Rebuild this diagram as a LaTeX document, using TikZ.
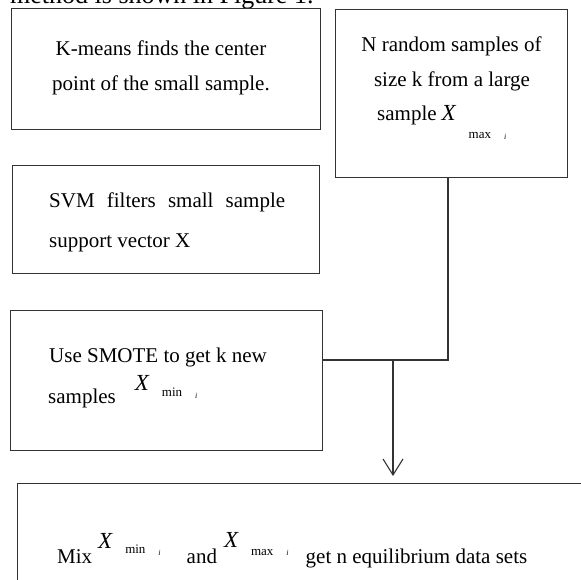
\documentclass[tikz,border=0pt]{standalone}
\usepackage{fontspec}
\setmainfont{Liberation Serif}
\usetikzlibrary{arrows.meta,positioning,calc}

\tikzset{
  box/.style={draw=black!80, line width=1.1pt, inner sep=0pt, anchor=north west},
  conn/.style={draw=black!80, line width=1.1pt},
  txt/.style={inner sep=0pt, anchor=base west, font=\fontsize{21}{35}\selectfont},
}
% X with index: #1 index text, #2 raise of X, #3 raise of index, #4 raise of i
\newcommand{\Xidx}[4]{\raisebox{#2}{\fontsize{23}{23}\selectfont\itshape X}\hspace{13pt}\raisebox{#3}{\fontsize{13}{13}\selectfont #1}\hspace{13pt}\raisebox{#4}{\fontsize{8}{8}\selectfont\itshape i}}

\begin{document}
\begin{tikzpicture}[x=1pt,y=-1pt]
\useasboundingbox (0,0) rectangle (580,580);
% =============================================
% - cut line of the page above.
\node[txt, font=\fontsize{26}{26}\selectfont] (capline) at (10,4) {method is shown in Figure 1.};
%
% - boxes.
\node[box, minimum width=309pt, minimum height=121pt] (kmeans) at (11,8) {};
\node[box, minimum width=232pt, minimum height=168pt] (randsmp) at (335,9) {};
\node[box, minimum width=307pt, minimum height=108pt] (svm) at (12,165) {};
\node[box, minimum width=312pt, minimum height=140pt] (smote) at (10,310) {};
\node[box, minimum width=600pt, minimum height=200pt] (mix) at (17,483) {};
%
% - texts.
\node[txt, anchor=base] (kmeansA) at (161,56) {K-means finds the center};
\node[txt, anchor=base] (kmeansB) at (161,91) {point of the small sample.};
\node[txt, anchor=base] (randA) at (451.5,52) {N random samples of};
\node[txt, anchor=base] (randB) at (452,87) {size k from a large};
\node[txt] (randC) at (377,121) {sample\hspace{5pt}\Xidx{max}{0pt}{-18pt}{-19pt}};
\node[txt] (svmA) at (49,207) {\makebox[236pt][s]{SVM filters small sample}};
\node[txt] (svmB) at (49,247) {support vector X};
\node[txt] (smoteA) at (49,362) {Use SMOTE to get k new};
\node[txt] (smoteB) at (48,403) {samples\hspace{19pt}\Xidx{min}{13pt}{7pt}{5pt}};
\node[txt] (mixA) at (57,563) {Mix\hspace{6pt}\Xidx{min}{15pt}{10pt}{8pt}\hspace{26pt}and\hspace{7pt}\Xidx{max}{16pt}{8pt}{8pt}\hspace{17pt}get n equilibrium data sets};
%
% - connectors.
\coordinate (join) at (448,360);
\coordinate (split) at (393,360);
\draw[conn] (randsmp.south -| join) -- (join) -- (join -| smote.east);
\draw[conn, -{Straight Barb[length=16pt,width=20pt]}, shorten >=7pt] (split) -- (split |- mix.north);
% =============================================
\end{tikzpicture}
\end{document}
